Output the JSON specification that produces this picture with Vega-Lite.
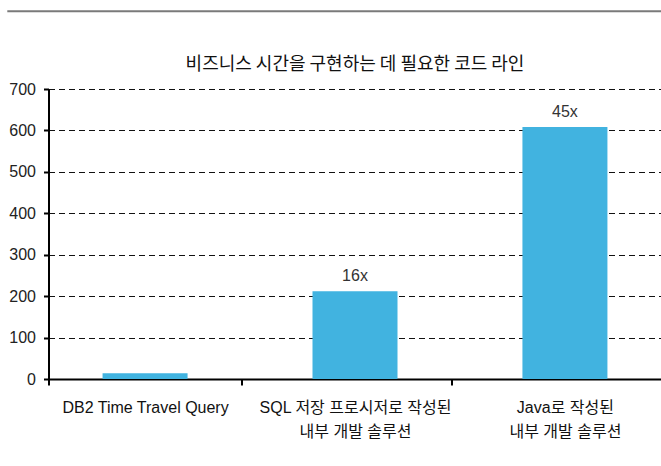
{
  "$schema": "https://vega.github.io/schema/vega-lite/v6.json",
  "padding": {"left": 5, "top": 10, "right": 0, "bottom": 0},
  "background": "white",
  "config": {"font": "Liberation Sans, Noto Sans CJK KR", "view": {"stroke": null}},
  "vconcat": [
    {
      "width": 694,
      "height": 0.5,
      "view": {"stroke": "#7a7a7a", "strokeWidth": 1.6},
      "data": {"values": []},
      "mark": {"type": "text", "text": ""},
      "encoding": {}
    },
    {
      "width": 613,
      "height": 290,
      "title": {
        "text": "비즈니스 시간을 구현하는 데 필요한 코드 라인",
        "font": "Noto Sans CJK KR",
        "fontSize": 18,
        "fontWeight": "normal",
        "color": "#111",
        "anchor": "middle",
        "offset": 7
      },
      "data": {
        "values": [
          {"cat": "DB2 Time Travel Query", "value": 14, "label": ""},
          {"cat": "SQL 저장 프로시저로 작성된|내부 개발 솔루션", "value": 212, "label": "16x"},
          {"cat": "Java로 작성된|내부 개발 솔루션", "value": 608, "label": "45x"}
        ]
      },
      "encoding": {
        "x": {
          "field": "cat",
          "type": "nominal",
          "sort": null,
          "scale": {"paddingInner": 0.08, "paddingOuter": 0},
          "axis": {
            "title": null,
            "labelAngle": 0,
            "labelExpr": "split(datum.label, '|')",
            "labelFontSize": 16,
            "labelColor": "#111",
            "labelPadding": 14,
            "labelLineHeight": 24,
            "labelLimit": 300,
            "tickBand": "extent",
            "tickSize": 6,
            "tickWidth": 2,
            "tickColor": "#000",
            "domainColor": "#000",
            "domainWidth": 2
          }
        },
        "y": {
          "field": "value",
          "type": "quantitative",
          "scale": {"domain": [0, 700], "nice": false},
          "axis": {
            "title": null,
            "values": [0, 100, 200, 300, 400, 500, 600, 700],
            "grid": true,
            "gridDash": [6, 4],
            "gridColor": "#111",
            "gridWidth": 1,
            "labelFontSize": 16,
            "labelColor": "#222",
            "labelPadding": 8,
            "tickSize": 5,
            "tickWidth": 2,
            "tickColor": "#000",
            "domainColor": "#000",
            "domainWidth": 2,
            "minExtent": 43
          }
        }
      },
      "layer": [
        {"mark": {"type": "bar", "width": 85, "color": "#41B3E0"}},
        {
          "mark": {"type": "text", "dy": -15, "fontSize": 16, "color": "#333"},
          "encoding": {"text": {"field": "label"}}
        }
      ]
    }
  ],
  "spacing": 43,
  "center": true
}
